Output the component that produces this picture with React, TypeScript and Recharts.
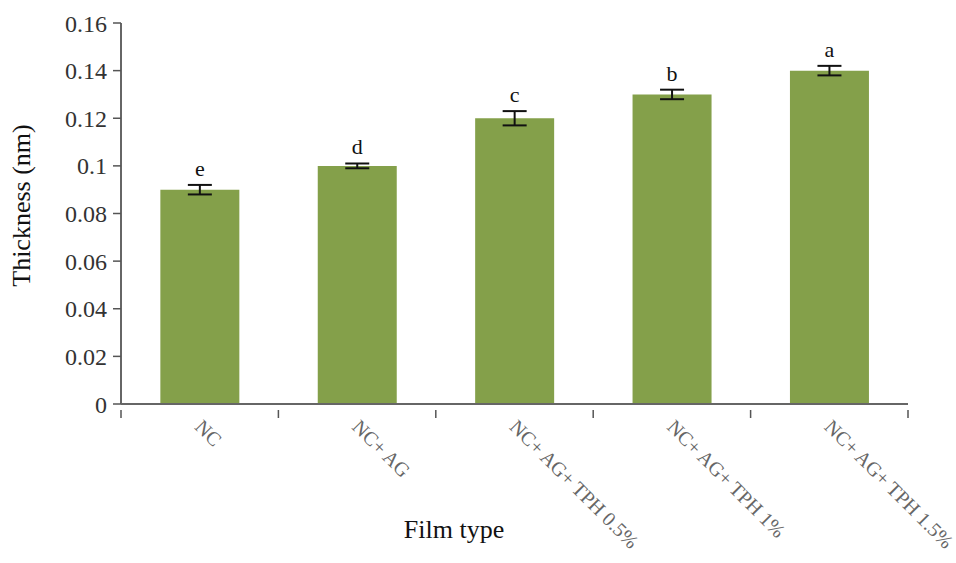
import { BarChart, Bar, XAxis, YAxis, ErrorBar, LabelList } from "recharts";

const films = ["NC", "NC+ AG", "NC+ AG+ TPH 0.5%", "NC+ AG+ TPH 1%", "NC+ AG+ TPH 1.5%"];
const thickness = [0.09, 0.1, 0.12, 0.13, 0.14];
const errors = [0.002, 0.001, 0.003, 0.002, 0.002];
const letters = ["e", "d", "c", "b", "a"];
const yTicks = [0, 0.02, 0.04, 0.06, 0.08, 0.1, 0.12, 0.14, 0.16];

const data = films.map((film, i) => ({
  film,
  value: thickness[i],
  err: errors[i],
  letter: letters[i],
}));

const W = 956;
const H = 563;
const yAxisW = 70;
const margin = { top: 23, right: 48, left: 51, bottom: 9 };
const plotW = W - margin.left - margin.right - yAxisW;
const step = plotW / films.length;
const serif = "'Liberation Serif', 'Times New Roman', serif";

function FilmTick(props: any) {
  const { x, y, payload, index } = props;
  const axisY = y - 2;
  return (
    <g>
      <line x1={x - step / 2} y1={axisY} x2={x - step / 2} y2={axisY + 8} stroke="#555" strokeWidth={1.5} />
      {index === films.length - 1 && (
        <line x1={x + step / 2} y1={axisY} x2={x + step / 2} y2={axisY + 8} stroke="#555" strokeWidth={1.5} />
      )}
      <text
        x={x - 6}
        y={y + 16}
        transform={`rotate(45, ${x - 6}, ${y + 16})`}
        textAnchor="start"
        fontFamily={serif}
        fontSize={20}
        fill="#666"
      >
        {payload.value}
      </text>
    </g>
  );
}

function LetterLabel(props: any) {
  const { x, y, width, height, index } = props;
  const d = data[index];
  const pxPerUnit = height / d.value;
  const top = y - d.err * pxPerUnit;
  return (
    <text x={x + width / 2} y={top - 9} textAnchor="middle" fontFamily={serif} fontSize={22} fill="#111">
      {d.letter}
    </text>
  );
}

function XTitle(props: any) {
  const { viewBox } = props;
  return (
    <text x={454} y={viewBox.y + viewBox.height - 16} textAnchor="middle" fontFamily={serif} fontSize={26} fill="#111">
      Film type
    </text>
  );
}

function YTitle(props: any) {
  const { viewBox } = props;
  const cy = viewBox.y + viewBox.height / 2 - 8;
  return (
    <text x={30} y={cy} transform={`rotate(-90, 30, ${cy})`} textAnchor="middle" fontFamily={serif} fontSize={26} fill="#111">
      Thickness (nm)
    </text>
  );
}

export default function App() {
  return (
    <div style={{ position: "absolute", left: 0, top: 0, background: "#fff" }}>
      <BarChart width={W} height={H} data={data} margin={margin} barCategoryGap="25%">
        <XAxis
          dataKey="film"
          interval={0}
          height={150}
          axisLine={{ stroke: "#666", strokeWidth: 2 }}
          tickLine={false}
          tick={<FilmTick />}
          label={<XTitle />}
        />
        <XAxis xAxisId="top" dataKey="film" orientation="top" height={0} tick={false} tickLine={false} axisLine={{ stroke: "#ccc" }} />
        <YAxis
          domain={[0, 0.16]}
          ticks={yTicks}
          width={yAxisW}
          interval={0}
          axisLine={{ stroke: "#666", strokeWidth: 2 }}
          tickLine={{ stroke: "#555", strokeWidth: 1.5 }}
          tickSize={8}
          tickMargin={6}
          tick={{ fontFamily: serif, fontSize: 24, fill: "#333" }}
          label={<YTitle />}
        />
        <YAxis yAxisId="right" orientation="right" width={0} tick={false} tickLine={false} axisLine={{ stroke: "#ccc" }} />
        <Bar dataKey="value" fill="#84a04a" isAnimationActive={false}>
          <ErrorBar dataKey="err" width={12} stroke="#111" strokeWidth={2} />
          <LabelList dataKey="letter" content={<LetterLabel />} />
        </Bar>
      </BarChart>
    </div>
  );
}
